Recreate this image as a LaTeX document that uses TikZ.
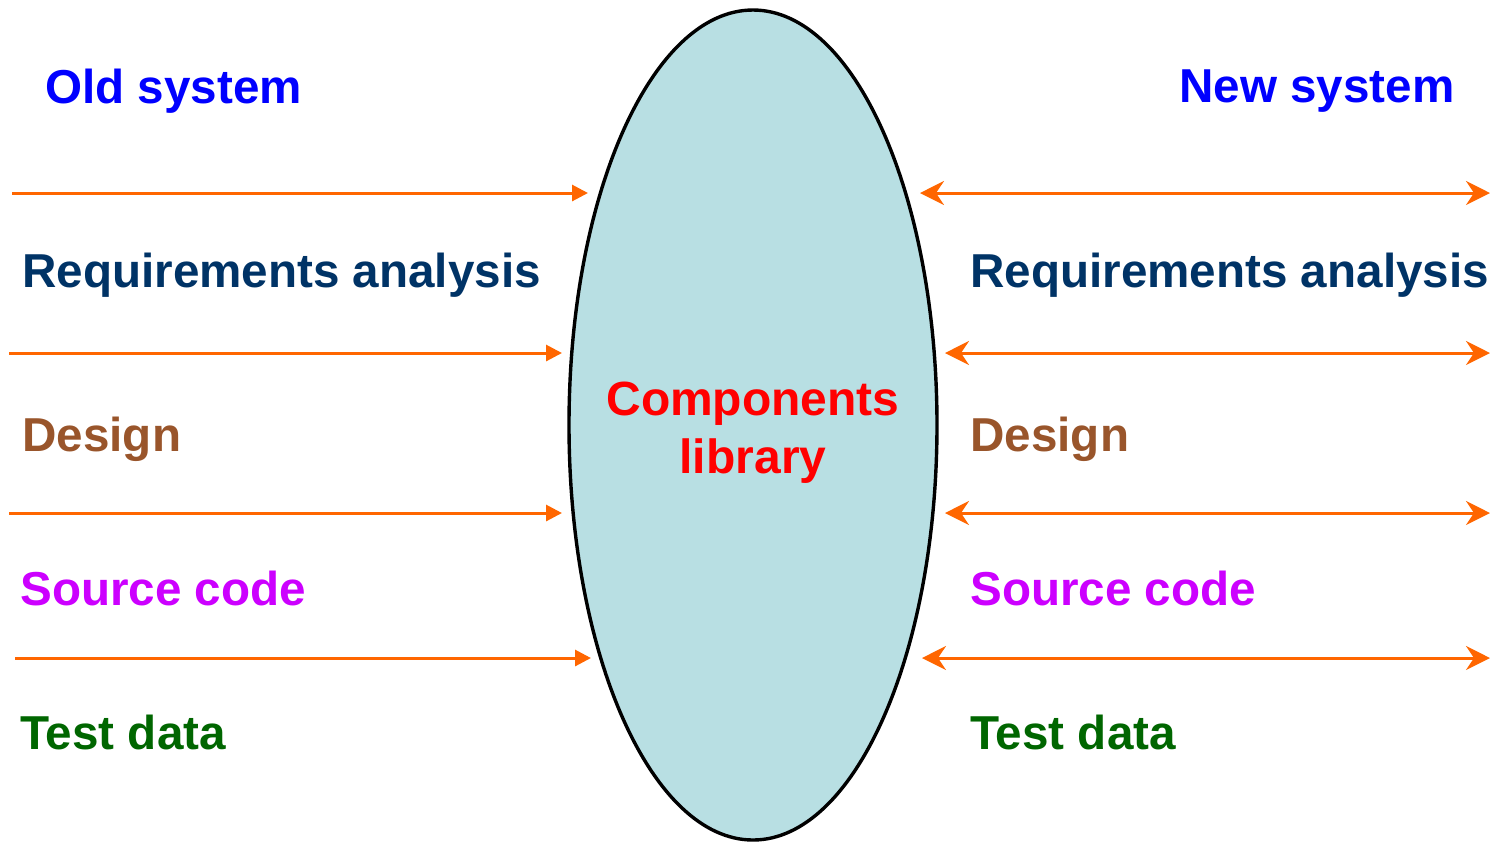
\documentclass[tikz,border=0pt]{standalone}
\usepackage{fontspec}
\setmainfont{Liberation Sans}
\usetikzlibrary{arrows.meta,shapes.geometric}
\definecolor{oldblue}{HTML}{0000FF}
\definecolor{reqnavy}{HTML}{003366}
\definecolor{desbrown}{HTML}{99552B}
\definecolor{srcmag}{HTML}{CC00FF}
\definecolor{testgreen}{HTML}{006600}
\definecolor{arrorange}{HTML}{FF6600}
\definecolor{libfill}{HTML}{B8DFE3}
\definecolor{libred}{HTML}{FF0000}
\tikzset{
  lbl/.style={font=\fontsize{23.8}{29}\selectfont\bfseries, inner sep=0pt},
  oneway/.style={draw=arrorange, line width=1.5pt, -{Triangle[length=8pt,width=8pt]}},
  twoway/.style={draw=arrorange, line width=1.5pt, {Stealth[length=12pt,width=12pt,inset=4pt]}-{Stealth[length=12pt,width=12pt,inset=4pt]}}
}
\begin{document}
\begin{tikzpicture}[x=0.5pt,y=-0.5pt]
\useasboundingbox (0,0) rectangle (1490,843);
\node[draw=black, line width=1.7pt, fill=libfill, ellipse, minimum width=184pt, minimum height=415pt, inner sep=0pt] (lib) at (753,425) {};
\node[lbl, text=libred, align=center, font=\fontsize{24}{29}\selectfont\bfseries] (libtxt) at (753,433) {Components\\library};
% labels
\node[lbl, text=oldblue, anchor=west] (oldsys) at (45,91) {Old system};
\node[lbl, text=oldblue, anchor=east] (newsys) at (1455,91) {New system};
\node[lbl, text=reqnavy, anchor=west] (reqL) at (22,275) {Requirements analysis};
\node[lbl, text=reqnavy, anchor=west] (reqR) at (970,275) {Requirements analysis};
\node[lbl, text=desbrown, anchor=west] (desL) at (22,439) {Design};
\node[lbl, text=desbrown, anchor=west] (desR) at (970,439) {Design};
\node[lbl, text=srcmag, anchor=west] (srcL) at (20,588) {Source code};
\node[lbl, text=srcmag, anchor=west] (srcR) at (970,588) {Source code};
\node[lbl, text=testgreen, anchor=west] (tstL) at (20,732) {Test data};
\node[lbl, text=testgreen, anchor=west] (tstR) at (970,732) {Test data};
% arrow end points
\coordinate (a1s) at (12,193);  \coordinate (a1e) at (588,193);
\coordinate (a2s) at (9,353);   \coordinate (a2e) at (562,353);
\coordinate (a3s) at (9,513);   \coordinate (a3e) at (562,513);
\coordinate (a4s) at (15,658);  \coordinate (a4e) at (591,658);
\coordinate (b1s) at (920,193); \coordinate (b1e) at (1490,193);
\coordinate (b2s) at (945,353); \coordinate (b2e) at (1490,353);
\coordinate (b3s) at (945,513); \coordinate (b3e) at (1490,513);
\coordinate (b4s) at (922,658); \coordinate (b4e) at (1490,658);
\draw[oneway] (a1s) -- (a1e);
\draw[oneway] (a2s) -- (a2e);
\draw[oneway] (a3s) -- (a3e);
\draw[oneway] (a4s) -- (a4e);
\draw[twoway] (b1s) -- (b1e);
\draw[twoway] (b2s) -- (b2e);
\draw[twoway] (b3s) -- (b3e);
\draw[twoway] (b4s) -- (b4e);
\end{tikzpicture}
\end{document}
